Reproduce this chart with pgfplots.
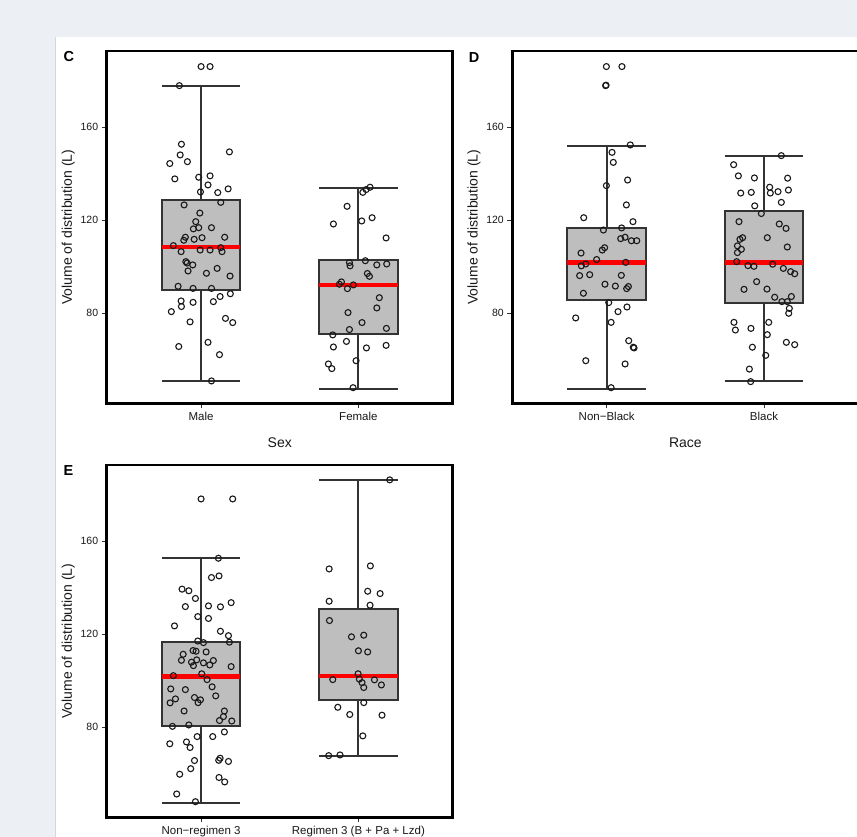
\documentclass[border=0pt]{standalone}
\usepackage{fontspec}
\setmainfont{Liberation Sans}
\usepackage{pgfplots}
\pgfplotsset{compat=1.18}
\definecolor{bg}{HTML}{ECEFF4}
\definecolor{edgeline}{HTML}{D3D7DD}
\definecolor{boxfill}{HTML}{BEBEBE}
\definecolor{boxline}{HTML}{333333}
\definecolor{medred}{HTML}{FF0000}
\pgfplotsset{
  panel/.style={
    scale only axis, width=346.1pt, height=352.5pt,
    xmin=0.4, xmax=2.6, ymin=41.2, ymax=192.8,
    xtick={1,2}, ytick={80,120,160},
    tick align=outside, tick pos=left, major tick length=5pt,
    tick style={line width=0.9pt, color=boxline},
    axis line style={line width=2.8pt, black},
    /pgf/number format/assume math mode=true,
    yticklabel style={font=\fontsize{10.5}{12}\selectfont, text=black!90},
    xticklabel style={font=\fontsize{11.5}{13}\selectfont, text=black!90},
    ylabel={Volume of distribution (L)},
    ylabel style={font=\fontsize{14}{16}\selectfont, text=black!90, at={(axis description cs:-0.111,0.5)}, anchor=center},
    xlabel style={font=\fontsize{14}{16}\selectfont, text=black!90, at={(axis description cs:0.5,-0.111)}, anchor=center},
  },
  boxsty/.style={draw=boxline, fill=boxfill, line width=2.1pt, line join=miter, mark=none},
  whisk/.style={draw=boxline, line width=2pt, mark=none},
  med/.style={draw=medred, line width=4.3pt, mark=none},
  pts/.style={only marks, mark=o, mark size=3pt, mark options={line width=1.1pt, draw=black!90, fill=none}},
}
\begin{document}
\begin{tikzpicture}
\fill[bg] (0pt,0pt) rectangle (857pt,837pt);
\fill[white] (56pt,0pt) rectangle (857pt,800pt);
\draw[edgeline, line width=1pt] (55.5pt,0pt) -- (55.5pt,800pt);

% ---------------- Panel C ----------------
\begin{axis}[panel, at={(106.7pt,433.5pt)}, anchor=south west,
  xticklabels={Male,Female}, xlabel={Sex}]
% Male: lw 50.9, q1 90.2, med 108.5, q3 128.6, uw 177.9
\addplot[whisk] coordinates {(1,128.6) (1,177.9)};
\addplot[whisk] coordinates {(1,90.2) (1,50.9)};
\addplot[whisk] coordinates {(0.75,177.9) (1.25,177.9)};
\addplot[whisk] coordinates {(0.75,50.9) (1.25,50.9)};
\addplot[boxsty] coordinates {(0.75,90.2) (1.25,90.2) (1.25,128.6) (0.75,128.6)} -- cycle;
\addplot[med] coordinates {(0.75,108.5) (1.25,108.5)};
% Female: lw 47.6, q1 71.1, med 92.2, q3 102.8, uw 133.8
\addplot[whisk] coordinates {(2,102.8) (2,133.8)};
\addplot[whisk] coordinates {(2,71.1) (2,47.6)};
\addplot[whisk] coordinates {(1.75,133.8) (2.25,133.8)};
\addplot[whisk] coordinates {(1.75,47.6) (2.25,47.6)};
\addplot[boxsty] coordinates {(1.75,71.1) (2.25,71.1) (2.25,102.8) (1.75,102.8)} -- cycle;
\addplot[med] coordinates {(1.75,92.2) (2.25,92.2)};
\addplot[pts] coordinates {
(1.000,186.1) (1.057,186.1) (0.862,177.9) (0.875,152.7) (1.180,149.4) (0.867,148.1)
(0.913,145.2) (0.801,144.4) (0.833,137.8) (0.985,138.5) (1.057,139.1) (1.044,135.2)
(0.996,132.2) (1.106,131.9) (1.172,133.5) (0.892,126.6) (1.125,127.7) (0.992,123.1)
(0.966,119.4) (0.951,116.3) (0.985,116.8) (1.066,116.8) (0.900,112.7) (0.890,111.4)
(0.956,111.8) (1.006,112.5) (1.150,112.7) (0.824,109.1) (0.873,106.5) (0.994,107.2)
(1.057,107.2) (1.125,108.2) (1.133,106.5) (0.903,102.2) (0.911,101.6) (0.947,100.8)
(0.917,98.2) (1.102,99.3) (1.034,97.2) (1.184,96.0) (0.854,91.6) (0.949,90.7)
(1.066,90.7) (0.873,85.3) (0.875,82.9) (0.949,84.7) (0.811,80.7) (1.078,85.0)
(1.121,87.2) (1.186,88.4) (0.930,76.3) (1.155,77.8) (1.201,76.0) (1.044,67.5)
(0.858,65.7) (1.117,62.2) (1.066,50.9)
};
\addplot[pts] coordinates {
(2.074,134.2) (2.049,133.2) (2.028,132.0) (1.928,126.0) (1.841,118.4) (2.021,119.7)
(2.087,121.1) (2.176,112.4) (1.943,101.8) (1.947,100.4) (2.044,102.6) (2.117,100.8)
(2.180,101.2) (2.057,97.1) (2.070,95.9) (1.892,93.5) (1.879,92.5) (1.930,90.6)
(1.968,92.2) (2.133,86.7) (2.117,82.3) (1.934,80.3) (2.023,76.0) (1.943,73.0)
(2.178,73.5) (1.837,70.7) (1.924,67.9) (1.841,65.5) (2.051,65.1) (2.176,66.2)
(1.985,59.6) (1.809,58.2) (1.831,56.2) (1.966,48.0)
};
\end{axis}

% ---------------- Panel D ----------------
\begin{axis}[panel, at={(512.3pt,433.5pt)}, anchor=south west,
  xticklabels={Non−Black,Black}, xlabel={Race}]
% Non-Black: lw 47.6, q1 85.6, med 101.8, q3 116.8, uw 152.1
\addplot[whisk] coordinates {(1,116.8) (1,152.1)};
\addplot[whisk] coordinates {(1,85.6) (1,47.6)};
\addplot[whisk] coordinates {(0.75,152.1) (1.25,152.1)};
\addplot[whisk] coordinates {(0.75,47.6) (1.25,47.6)};
\addplot[boxsty] coordinates {(0.75,85.6) (1.25,85.6) (1.25,116.8) (0.75,116.8)} -- cycle;
\addplot[med] coordinates {(0.75,101.8) (1.25,101.8)};
% Black: lw 50.9, q1 84.3, med 101.8, q3 124.0, uw 147.7
\addplot[whisk] coordinates {(2,124.0) (2,147.7)};
\addplot[whisk] coordinates {(2,84.3) (2,50.9)};
\addplot[whisk] coordinates {(1.75,147.7) (2.25,147.7)};
\addplot[whisk] coordinates {(1.75,50.9) (2.25,50.9)};
\addplot[boxsty] coordinates {(1.75,84.3) (2.25,84.3) (2.25,124.0) (1.75,124.0)} -- cycle;
\addplot[med] coordinates {(1.75,101.8) (2.25,101.8)};
\addplot[pts] coordinates {
(0.998,186.1) (1.097,186.1) (0.996,178.1) (0.993,177.9) (1.150,152.4) (1.034,149.2)
(1.042,144.9) (1.133,137.3) (0.998,134.9) (1.125,126.6) (0.854,121.1) (1.167,119.4)
(0.979,115.8) (1.095,116.7) (1.089,112.1) (1.117,112.7) (1.157,111.2) (1.191,111.2)
(0.987,108.2) (0.972,107.2) (0.837,105.9) (0.936,103.1) (0.867,101.2) (0.839,100.4)
(1.121,101.9) (0.828,96.2) (0.892,96.6) (1.093,96.3) (0.989,92.5) (1.055,91.7)
(1.138,91.5) (1.127,90.6) (0.852,88.6) (1.013,84.6) (1.129,82.7) (1.072,80.7)
(0.803,78.0) (1.028,76.1) (1.140,68.2) (1.169,65.4) (1.174,65.1) (0.867,59.6)
(1.117,58.2) (1.028,48.0)
};
\addplot[pts] coordinates {
(2.110,147.8) (1.807,143.9) (1.837,139.1) (1.939,138.2) (2.150,138.1) (1.852,131.7)
(1.919,132.0) (2.036,134.2) (2.040,131.7) (2.089,132.3) (2.155,133.0) (2.110,127.7)
(1.941,126.2) (1.983,122.9) (1.841,119.4) (2.097,118.4) (2.140,116.5) (1.864,112.5)
(1.847,111.8) (2.021,112.5) (1.831,109.0) (1.856,107.5) (1.831,106.1) (2.148,108.5)
(1.826,102.2) (1.898,100.5) (1.936,100.2) (2.055,101.1) (2.123,99.3) (2.169,97.9)
(2.195,97.0) (1.953,93.6) (1.873,90.3) (2.019,90.4) (2.068,86.9) (2.114,85.0)
(2.174,87.2) (2.148,85.0) (2.161,82.1) (2.157,80.0) (1.809,76.1) (1.818,72.8)
(1.917,73.5) (2.030,76.1) (2.021,70.8) (1.926,65.4) (2.142,67.5) (2.195,66.5)
(2.011,61.9) (1.907,56.0) (1.915,50.6)
};
\end{axis}

% ---------------- Panel E ----------------
\begin{axis}[panel, at={(106.7pt,19.5pt)}, anchor=south west,
  xticklabels={Non−regimen 3,Regimen 3 (B + Pa + Lzd)}]
% Non-regimen 3: lw 47.6, q1 80.6, med 101.8, q3 116.8, uw 152.7
\addplot[whisk] coordinates {(1,116.8) (1,152.7)};
\addplot[whisk] coordinates {(1,80.6) (1,47.6)};
\addplot[whisk] coordinates {(0.75,152.7) (1.25,152.7)};
\addplot[whisk] coordinates {(0.75,47.6) (1.25,47.6)};
\addplot[boxsty] coordinates {(0.75,80.6) (1.25,80.6) (1.25,116.8) (0.75,116.8)} -- cycle;
\addplot[med] coordinates {(0.75,101.8) (1.25,101.8)};
% Regimen 3: lw 67.8, q1 91.7, med 102.2, q3 130.9, uw 186.5
\addplot[whisk] coordinates {(2,130.9) (2,186.5)};
\addplot[whisk] coordinates {(2,91.7) (2,67.8)};
\addplot[whisk] coordinates {(1.75,186.5) (2.25,186.5)};
\addplot[whisk] coordinates {(1.75,67.8) (2.25,67.8)};
\addplot[boxsty] coordinates {(1.75,91.7) (2.25,91.7) (2.25,130.9) (1.75,130.9)} -- cycle;
\addplot[med] coordinates {(1.75,102.2) (2.25,102.2)};
\addplot[pts] coordinates {
(1.000,178.2) (1.201,178.2) (1.110,152.7) (1.114,145.1) (1.066,144.4) (0.879,139.4)
(0.922,138.7) (0.964,135.4) (0.900,131.9) (1.047,132.2) (1.123,131.8) (1.191,133.6)
(0.979,127.6) (1.047,126.8) (0.831,123.6) (1.123,121.3) (1.174,119.4) (1.180,116.6)
(0.979,117.1) (1.015,116.4) (0.886,111.4) (0.949,113.0) (0.968,112.7) (1.032,112.4)
(0.875,108.8) (0.939,108.0) (0.951,106.5) (0.972,109.0) (1.015,107.7) (1.055,106.8)
(1.078,108.7) (1.191,106.1) (0.824,102.2) (1.004,103.0) (1.038,100.5) (0.807,96.5)
(0.900,96.2) (1.070,97.4) (1.093,93.5) (0.837,92.2) (0.803,90.5) (0.958,92.8)
(0.996,91.8) (0.981,90.6) (0.892,87.0) (1.148,87.0) (1.142,84.6) (1.117,82.9)
(1.195,82.7) (0.818,80.4) (0.922,81.0) (0.975,76.0) (1.074,76.0) (1.148,78.0)
(0.801,72.9) (0.907,73.7) (0.930,71.3) (1.121,66.7) (1.112,65.8) (1.174,65.3)
(0.958,65.7) (0.934,62.2) (0.864,59.8) (1.114,58.4) (1.150,56.5) (0.845,51.3)
(0.964,48.0)
};
\addplot[pts] coordinates {
(2.199,186.4) (1.814,148.1) (2.076,149.4) (1.814,134.2) (2.059,138.5) (2.138,137.5)
(2.074,132.5) (1.816,125.9) (1.956,118.9) (2.034,119.6) (2.000,112.9) (2.059,112.4)
(1.837,100.5) (1.998,103.0) (2.006,100.7) (2.023,99.2) (2.102,100.4) (2.146,98.2)
(2.034,97.1) (1.869,88.6) (1.945,85.5) (2.034,90.6) (2.150,85.2) (2.028,76.3)
(1.811,67.8) (1.883,68.1)
};
\end{axis}

% panel letters
\node[anchor=north west, inner sep=0pt, font=\fontsize{14.5}{16}\selectfont\bfseries] at (63.3pt,785.5pt) {C};
\node[anchor=north west, inner sep=0pt, font=\fontsize{14.5}{16}\selectfont\bfseries] at (468.7pt,785.0pt) {D};
\node[anchor=north west, inner sep=0pt, font=\fontsize{14.5}{16}\selectfont\bfseries] at (63.3pt,371.5pt) {E};

\pgfresetboundingbox
\useasboundingbox (0pt,0pt) rectangle (857pt,837pt);
\end{tikzpicture}
\end{document}
